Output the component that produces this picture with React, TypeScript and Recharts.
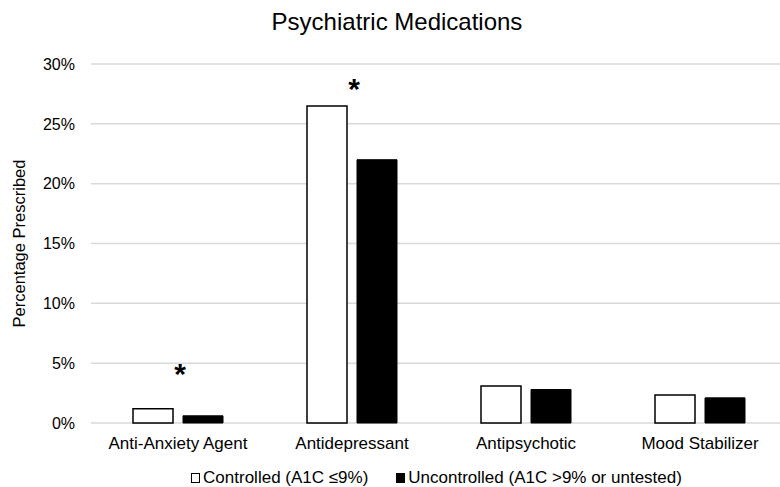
import React from 'react';
import { BarChart, Bar, XAxis, YAxis, CartesianGrid, Legend, ReferenceDot } from 'recharts';

const categories = ['Anti-Anxiety Agent', 'Antidepressant', 'Antipsychotic', 'Mood Stabilizer'];
const controlled = [1.2, 26.5, 3.1, 2.35];
const uncontrolled = [0.6, 22.0, 2.8, 2.1];
// height (in %) at which a significance asterisk is drawn; null = none
const significance: (number | null)[] = [4.65, 28.5, null, null];
const yTicks = [0, 5, 10, 15, 20, 25, 30];

const seriesNames = ['Controlled (A1C \u22649%)', 'Uncontrolled (A1C >9% or untested)'];

const data = categories.map((c, i) => ({
  name: c,
  controlled: controlled[i],
  uncontrolled: uncontrolled[i],
}));

const FONT = '"Liberation Sans", Arial, sans-serif';

const Star = (props: any) => {
  const { cx, cy } = props;
  return (
    <text x={cx + 2} y={cy + 17} textAnchor="middle" fontSize={30} fontWeight="bold" fontFamily={FONT} fill="#000">
      *
    </text>
  );
};

const LegendContent = () => (
  <div style={{ display: 'flex', justifyContent: 'center', fontFamily: FONT, fontSize: 17, color: '#000', lineHeight: '20px', height: 30, paddingTop: 11, paddingLeft: 86, boxSizing: 'border-box' }}>
    <div style={{ display: 'flex', alignItems: 'center', marginRight: 28, height: 20 }}>
      <span style={{ display: 'inline-block', width: 7, height: 8, border: '1.5px solid #000', background: '#fff', marginRight: 3 }} />
      <span>{seriesNames[0]}</span>
    </div>
    <div style={{ display: 'flex', alignItems: 'center', height: 20 }}>
      <span style={{ display: 'inline-block', width: 9, height: 10, background: '#000', marginRight: 3 }} />
      <span>{seriesNames[1]}</span>
    </div>
  </div>
);

export default function App() {
  return (
    <div style={{ position: 'absolute', left: 0, top: 0, width: 780, height: 487, overflow: 'hidden', background: '#fff' }}>
      <div style={{ position: 'absolute', left: 0, top: 8, width: 780, textAlign: 'center', fontFamily: FONT, fontSize: 24, lineHeight: '27px', paddingLeft: 14, boxSizing: 'border-box' }}>
        Psychiatric Medications
      </div>
      <BarChart
        width={800}
        height={487}
        data={data}
        margin={{ top: 64, right: 13, left: 0, bottom: 0 }}
        barSize={40}
        barGap={10}
      >
        <CartesianGrid horizontal vertical={false} stroke="#d9d9d9" strokeWidth={1.5} />
        <XAxis
          dataKey="name"
          axisLine={false}
          tickLine={false}
          tickSize={8}
          tickMargin={6}
          height={34}
          interval={0}
          tick={{ fill: '#000', fontSize: 17, fontFamily: FONT }}
        />
        <YAxis
          width={91}
          domain={[0, 30]}
          ticks={yTicks}
          axisLine={false}
          tickLine={false}
          tickSize={10}
          tickMargin={6}
          tickFormatter={(v: number) => `${v}%`}
          tick={{ fill: '#000', fontSize: 16, fontFamily: FONT }}
          label={{ value: 'Percentage Prescribed', angle: -90, position: 'insideLeft', offset: 19, style: { textAnchor: 'middle', fontSize: 16.5, fontFamily: FONT, fill: '#000' } }}
        />
        <Legend verticalAlign="bottom" height={30} content={<LegendContent />} wrapperStyle={{ height: 30 }} />
        <Bar dataKey="controlled" name={seriesNames[0]} fill="#fff" stroke="#000" strokeWidth={1.5} isAnimationActive={false} />
        <Bar dataKey="uncontrolled" name={seriesNames[1]} fill="#000" stroke="#000" strokeWidth={1} isAnimationActive={false} />
        {categories.map((c, i) =>
          significance[i] != null ? (
            <ReferenceDot key={c} x={c} y={significance[i] as number} r={0} shape={<Star />} ifOverflow="visible" />
          ) : null
        )}
      </BarChart>
    </div>
  );
}
